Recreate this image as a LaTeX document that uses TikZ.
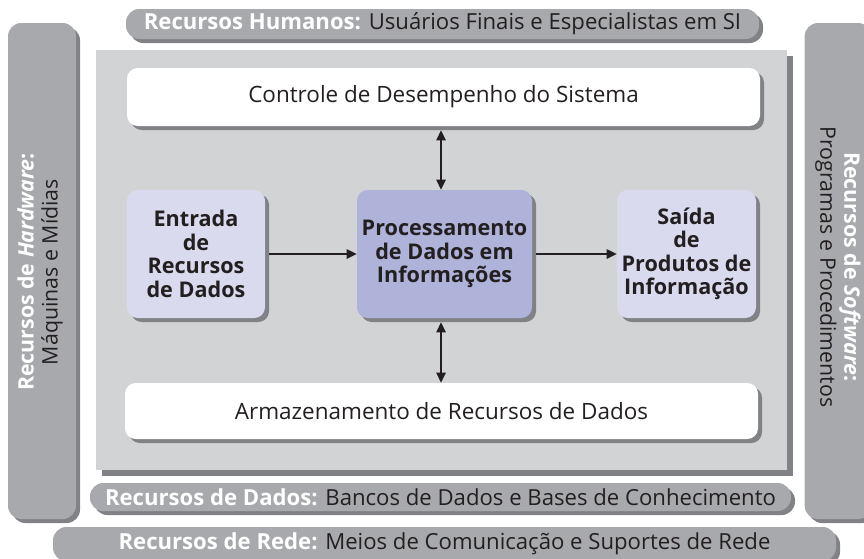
\documentclass[tikz,border=0pt]{standalone}
\usepackage{fontspec}
\setmainfont{Open Sans}
\usetikzlibrary{arrows.meta,shadows}
\definecolor{panel}{HTML}{D1D3D4}
\definecolor{barfill}{HTML}{A7A9AC}
\definecolor{shade}{HTML}{808285}
\definecolor{lav}{HTML}{DADAEF}
\definecolor{lavd}{HTML}{AFB2D9}
\definecolor{ink}{HTML}{231F20}
\tikzset{
  shad/.style={general shadow={fill=shade,shadow xshift=#1,shadow yshift=-#1}},
  barbox/.style={fill=barfill,rounded corners=10pt,shad=3pt,inner sep=0pt,text=ink,
    font=\fontsize{16.6}{18}\selectfont},
  whitebox/.style={fill=white,rounded corners=8pt,shad=3pt,inner sep=0pt,text=ink,
    font=\fontsize{16.85}{19}\selectfont},
  procbox/.style={rounded corners=8pt,shad=3pt,inner sep=0pt,text=ink,align=center,
    font=\fontsize{16.2}{17.6}\selectfont\bfseries},
  sidetext/.style={align=center,text=ink,font=\fontsize{16}{18}\selectfont},
  arr/.style={line width=1.1pt,draw=ink,-{Triangle[length=7.5pt,width=7pt]}},
  darr/.style={line width=1.1pt,draw=ink,{Triangle[length=7.5pt,width=7pt]}-{Triangle[length=7.5pt,width=7pt]}},
}
\newcommand{\wb}[1]{\textcolor{white}{\bfseries #1}}
\begin{document}
\begin{tikzpicture}[x=0.75pt,y=-0.75pt]
\useasboundingbox (0,0) rectangle (864,558);
% side bars
\node[barbox,minimum width=51pt,minimum height=372pt] (hw) at (42,271) {};
\node[barbox,minimum width=50pt,minimum height=372pt] (sw) at (838,271) {};
\node[sidetext,rotate=90] (hwt) at (40,272) {\wb{Recursos de \textit{Hardware}:}\\Máquinas e Mídias};
\node[sidetext,rotate=-90] (swt) at (838,267) {\wb{Recursos de \textit{Software}:}\\Programas e Procedimentos};
% top and bottom bars
\node[barbox,minimum width=474.75pt,minimum height=22.5pt] (hum) at (442.5,24) {\wb{Recursos Humanos:} Usuários Finais e Especialistas em SI};
\node[barbox,minimum width=525.75pt,minimum height=21pt] (dad) at (440.5,497) {\wb{Recursos de Dados:} Bancos de Dados e Bases de Conhecimento};
\node[barbox,minimum width=587.25pt,minimum height=25.5pt] (rede) at (444.5,544) {\wb{Recursos de Rede:} Meios de Comunicação e Suportes de Rede};
% panel
\node[fill=panel,shad=4.5pt,minimum width=518.25pt,minimum height=315pt,inner sep=0pt] (pan) at (441.5,260) {};
% boxes
\node[whitebox,minimum width=474.75pt,minimum height=43.5pt] (ctrl) at (443.5,97) {Controle de Desempenho do Sistema};
\node[whitebox,minimum width=474.75pt,minimum height=42pt] (arm) at (441.5,411) {Armazenamento de Recursos de Dados};
\node[procbox,fill=lav,minimum width=103.5pt,minimum height=96pt] (ent) at (196,254) {Entrada\\de\\Recursos\\de Dados};
\node[procbox,fill=lavd,minimum width=131.25pt,minimum height=96pt] (proc) at (444.5,254) {Processamento\\de Dados em\\Informações};
\node[procbox,fill=lav,minimum width=104.25pt,minimum height=96pt] (sai) at (686.5,254) {Saída\\de\\Produtos de\\Informação};
% connectors
\draw[arr] ([xshift=3pt]ent.east) -- (proc.west);
\draw[arr] ([xshift=3pt]proc.east) -- (sai.west);
\draw[darr] ([xshift=-2.6pt,yshift=-3pt]ctrl.south -| proc.north) -- ([xshift=-2.6pt]proc.north);
\draw[darr] ([xshift=-2.6pt,yshift=-3pt]proc.south) -- ([xshift=-2.6pt]arm.north -| proc.south);
\end{tikzpicture}
\end{document}
